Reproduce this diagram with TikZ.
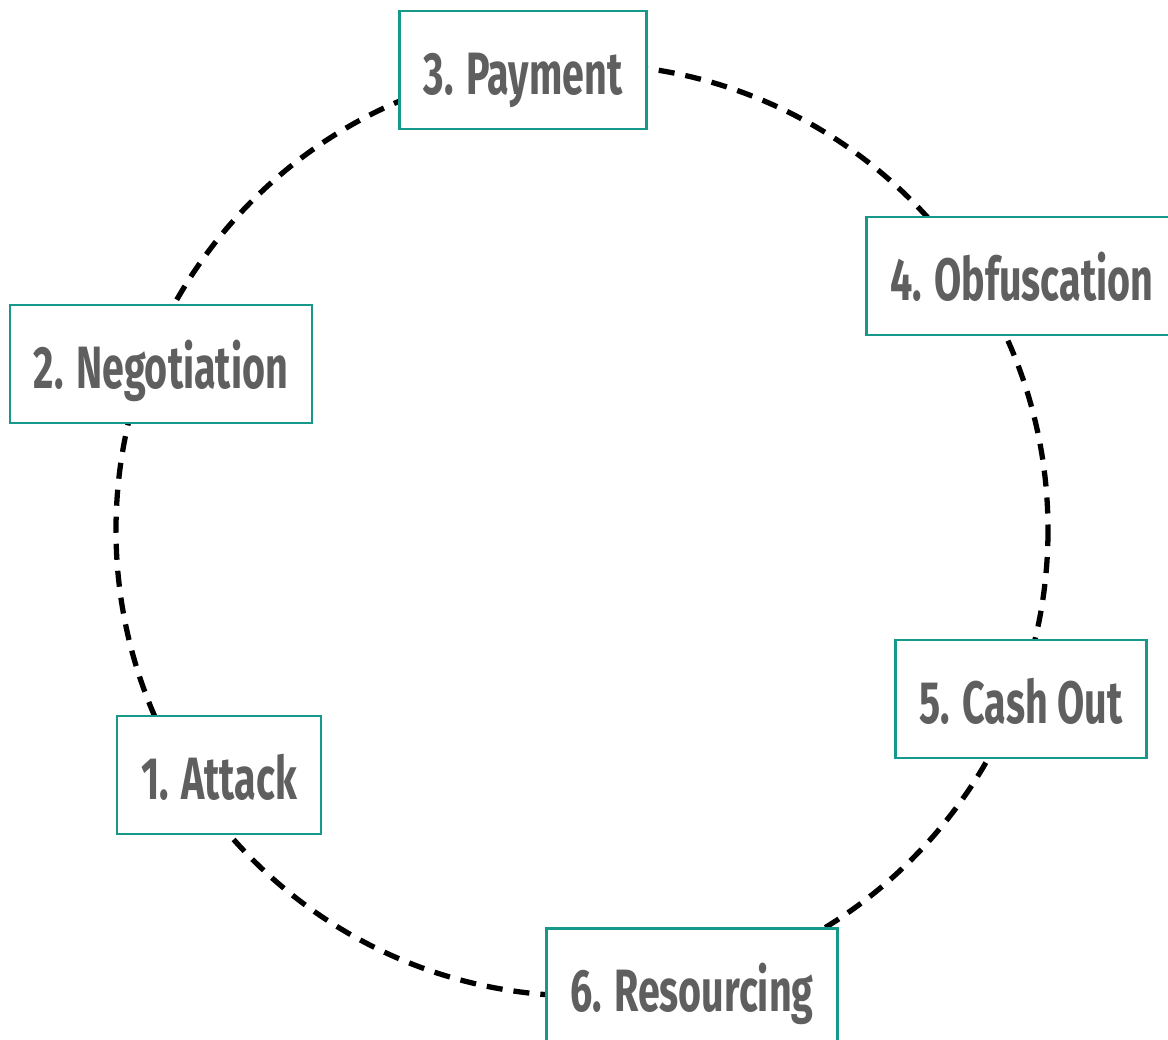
\documentclass[tikz,border=0pt]{standalone}
\usepackage{fontspec}
\usetikzlibrary{backgrounds}
\newfontfamily\stepfont{Fira Sans}[FakeStretch=0.66]
\definecolor{cyc-teal}{RGB}   { 22, 152, 138}
\definecolor{cyc-grey}{RGB}   { 95,  95,  95}
\definecolor{cyc-black}{RGB}  {  0,   0,   0}

\begin{document}
\begin{tikzpicture}[x=0.03cm, y=-0.03cm,
	stage/.style={draw=cyc-teal, line width=2.2pt, fill=white, text=cyc-grey,
		font=\stepfont\bfseries\fontsize{51}{60}\selectfont,
		inner xsep=0.72cm, inner ysep=0pt, minimum height=3.54cm,
		text height=1.47cm, text depth=0pt},
	ring/.style={draw=cyc-black, line width=4.5pt, dash pattern=on 13.7pt off 9.4pt}]
\useasboundingbox (0,0) rectangle (1168,1040);
% THE BOXES SIT ON TOP OF THE RING
\coordinate (hub) at (582,530);
\node[stage] (attack) at (219,775) {1. Attack};
\node[stage] (nego) at (161,364) {2. Negotiation};
\node[stage] (pay) at (523,70) {3. Payment};
\node[stage, anchor=west] (obf) at (865,276) {4. Obfuscation};
\node[stage] (cash) at (1021,699) {5. Cash Out};
\node[stage, anchor=north west] (res) at (545,927) {6. Resourcing};

	\begin{pgfonlayer}{background}
		\path[ring] (hub) circle[radius=466];
	\end{pgfonlayer}

\end{tikzpicture}
\end{document}
